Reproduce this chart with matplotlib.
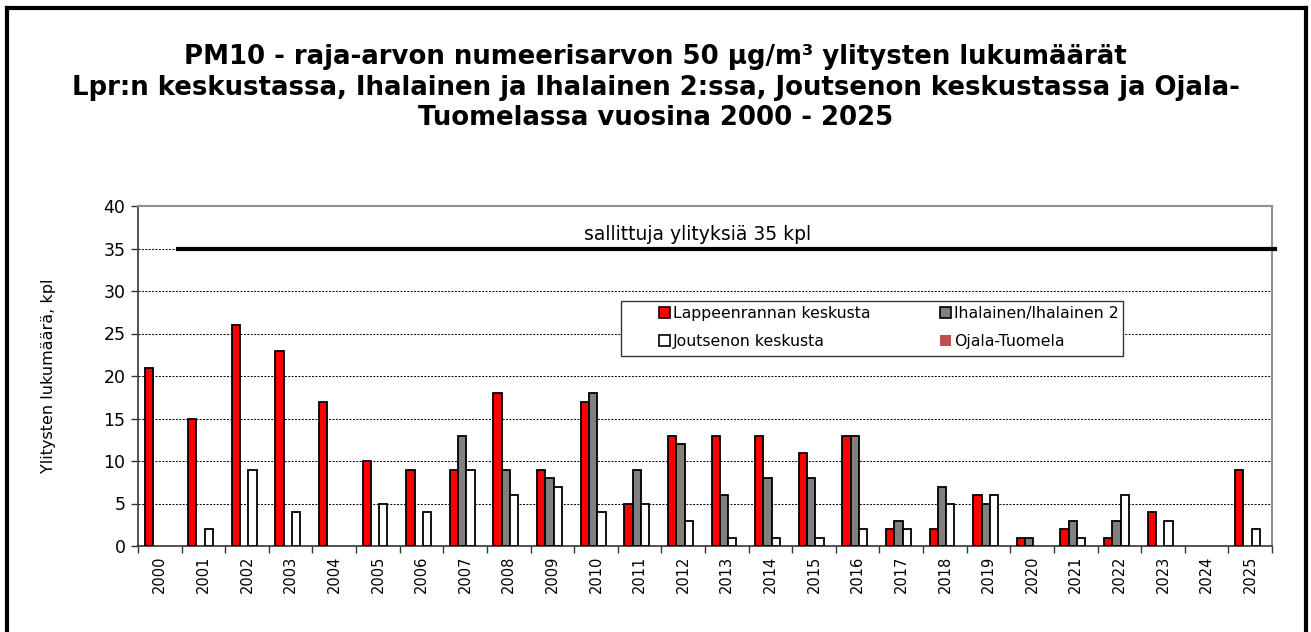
import numpy as np
import matplotlib
matplotlib.use("Agg")
import matplotlib.pyplot as plt
from matplotlib.patches import Rectangle
from matplotlib.lines import Line2D

plt.rcParams['font.family'] = ['DejaVu Sans']

years = [str(y) for y in range(2000, 2026)]
nan = np.nan
lappeenranta = [21, 15, 26, 23, 17, 10, 9, 9, 18, 9, 17, 5, 13, 13, 13, 11, 13, 2, 2, 6, 1, 2, 1, 4, nan, 9]
ihalainen = [nan, nan, nan, nan, nan, nan, nan, 13, 9, 8, 18, 9, 12, 6, 8, 8, 13, 3, 7, 5, 1, 3, 3, nan, nan, nan]
joutseno = [nan, 2, 9, 4, nan, 5, 4, 9, 6, 7, 4, 5, 3, 1, 1, 1, 2, 2, 5, 6, nan, 1, 6, 3, nan, 2]
ojala = [nan] * 26
series_names = ["Lappeenrannan keskusta", "Ihalainen/Ihalainen 2",
                "Joutsenon keskusta", "Ojala-Tuomela"]
limit = 35

W, H = 1311, 632
fig = plt.figure(figsize=(W / 100, H / 100), dpi=100)
ax = fig.add_axes([138 / W, 1 - 546 / H, (1272 - 138) / W, (546 - 206) / H])

x = np.arange(len(years))
w = 0.19
cols = ["#ff0000", "#808080", "#ffffff", "#c0504d"]
data = [lappeenranta, ihalainen, joutseno, ojala]
for k, (vals, c) in enumerate(zip(data, cols)):
    off = (k - 1.5) * w + 0.03
    ec = "black" if k < 3 else "none"
    ax.bar(x + off, vals, w, color=c, edgecolor=ec, linewidth=1.3, zorder=3)

ax.set_xlim(-0.5, len(years) - 0.5)
ax.set_ylim(0, 40)
ax.set_yticks(range(0, 41, 5))
ax.set_yticklabels([str(v) for v in range(0, 41, 5)], fontsize=12.5)
ax.set_xticks(x)
ax.set_xticklabels(years, rotation=90, fontsize=10.5)
ax.set_xticks(np.arange(-0.5, len(years), 1), minor=True)
ax.tick_params(axis="x", which="major", length=0, pad=7)
ax.tick_params(axis="x", which="minor", length=5, width=1, color="#333333")
ax.tick_params(axis="y", length=5, width=1, color="#333333", pad=4)
for y in range(5, 40, 5):
    ax.axhline(y, color="black", lw=0.7, ls=(0, (2, 1.5)), zorder=1)
for s in ["top", "right"]:
    ax.spines[s].set_color("#909090")
    ax.spines[s].set_linewidth(1.5)
for s in ["left", "bottom"]:
    ax.spines[s].set_color("#333333")
    ax.spines[s].set_linewidth(1.2)

ax.axhline(limit, xmin=0.035, xmax=1.003, color="black", lw=3, zorder=4, clip_on=False)
ax.text((698 - 138) / (1272 - 138), 36.7, "sallittuja ylityksiä 35 kpl",
        transform=ax.get_yaxis_transform(), ha="center", va="center", fontsize=13.5)
ax.set_ylabel("Ylitysten lukumäärä, kpl", fontsize=11.5, labelpad=34)

# legend: Excel fills row by row, matplotlib column by column
handles = []
for k, c in enumerate(cols):
    ec = "black" if k < 3 else "none"
    handles.append(Rectangle((0, 0), 1, 1, facecolor=c, edgecolor=ec, linewidth=1.2))
order = [0, 2, 1, 3]
ax.add_patch(Rectangle((621 / W, 1 - 356 / H), (1123 - 621) / W, (356 - 301) / H,
                       transform=fig.transFigure, facecolor="white", edgecolor="#333333",
                       linewidth=1.0, zorder=4.5, clip_on=False))
leg = ax.legend([handles[i] for i in order], [series_names[i] for i in order], ncol=2,
                loc="upper left", bbox_to_anchor=(659 / W, 1 - 306 / H),
                bbox_transform=fig.transFigure, fontsize=11.3, frameon=False,
                handlelength=0.7, handleheight=0.7, handletextpad=0.2, columnspacing=4.4,
                borderpad=0, labelspacing=0.8, borderaxespad=0)
leg.set_zorder(5)

title_lines = ["PM10 - raja-arvon numeerisarvon 50 µg/m³ ylitysten lukumäärät",
               "Lpr:n keskustassa, Ihalainen ja Ihalainen 2:ssa, Joutsenon keskustassa ja Ojala-",
               "Tuomelassa vuosina 2000 - 2025"]
for line, yy in zip(title_lines, [57, 88, 118]):
    fig.text(0.5, 1 - yy / H, line, ha="center", va="center", fontsize=18.7, fontweight="bold")

# outer frame (bottom edge lies below the picture)
fw = 3
fig.add_artist(Line2D([7 / W, 7 / W], [0, 1 - 8 / H], color="black", lw=fw))
fig.add_artist(Line2D([7 / W, 1306 / W], [1 - 8 / H, 1 - 8 / H], color="black", lw=fw))
fig.add_artist(Line2D([1306 / W, 1306 / W], [0, 1 - 8 / H], color="black", lw=fw))

fig.savefig("out.png", dpi=100)
